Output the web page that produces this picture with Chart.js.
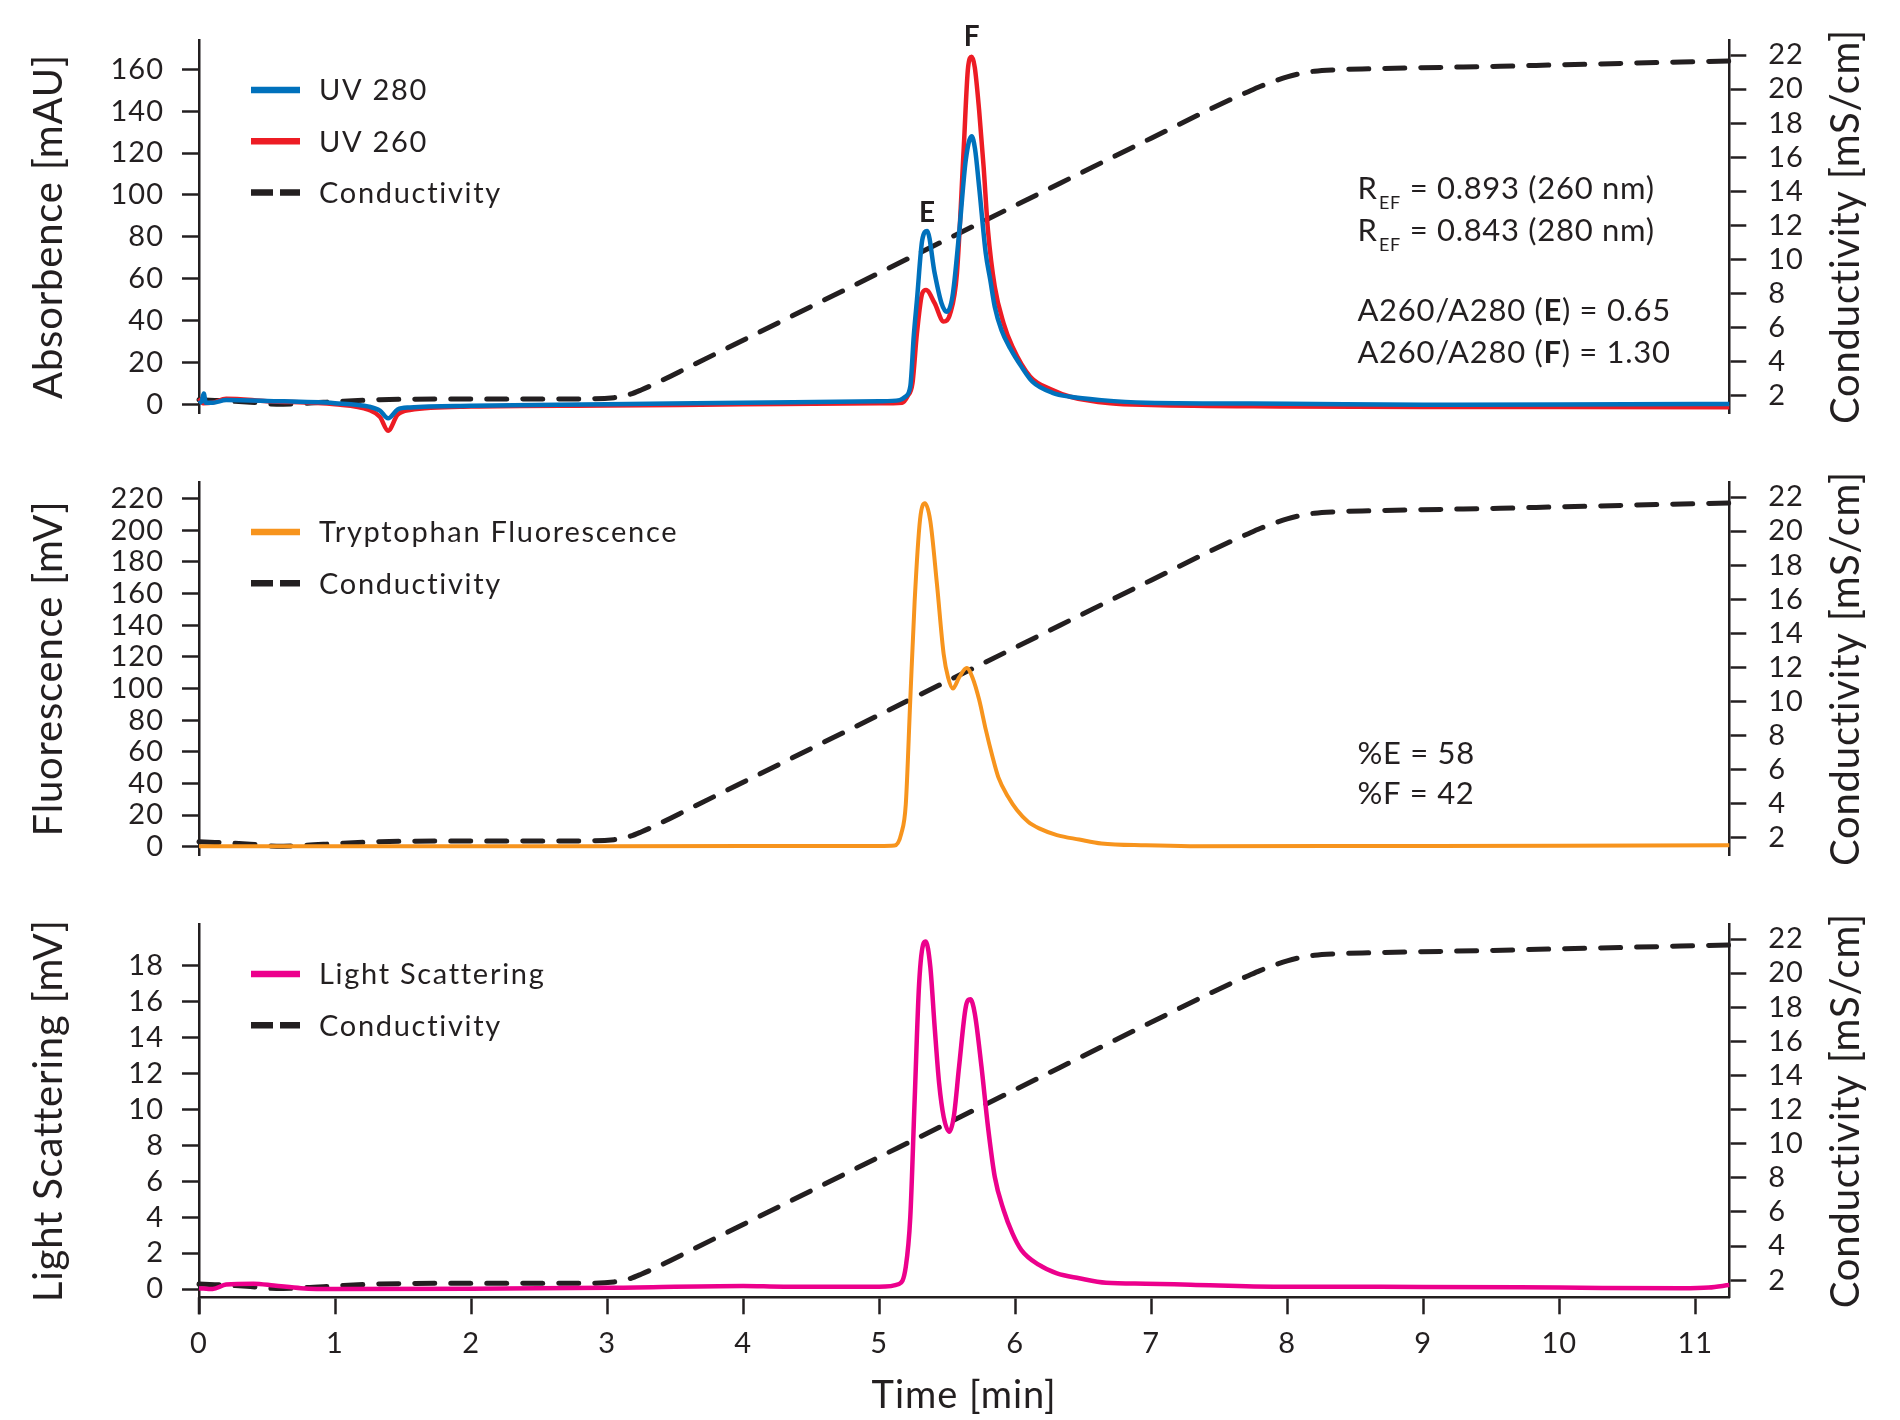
<!DOCTYPE html>
<html>
<head>
<meta charset="utf-8">
<script src="https://cdn.jsdelivr.net/npm/chart.js@4.4.1/dist/chart.umd.min.js"></script>
<style>
  html, body { margin: 0; padding: 0; background: #fff; }
  #wrap { position: relative; width: 1900px; height: 1420px; }
  canvas { position: absolute; left: 0; }
</style>
</head>
<body>
<div id="wrap">
  <canvas id="uvChart" width="1900" height="440" style="top:0"></canvas>
  <canvas id="fluChart" width="1900" height="440" style="top:440px"></canvas>
  <canvas id="lsChart" width="1900" height="540" style="top:880px"></canvas>
</div>
<script>
const INK = '#231f20';
const FONT = 'Lato, "Open Sans", sans-serif';

// ticks
const timeTicks = [0, 1, 2, 3, 4, 5, 6, 7, 8, 9, 10, 11];
const condTicks = [2, 4, 6, 8, 10, 12, 14, 16, 18, 20, 22];
const absTicks = [0, 20, 40, 60, 80, 100, 120, 140, 160];
const fluTicks = [0, 20, 40, 60, 80, 100, 120, 140, 160, 180, 200, 220];
const lsTicks = [0, 2, 4, 6, 8, 10, 12, 14, 16, 18];

// conductivity (mS/cm), same run in every panel
const condTime = [0, 0.35, 0.57, 0.77, 1.03, 1.33, 2.0, 2.9, 3.05, 3.15, 3.25, 3.4, 3.6, 4.0, 5.0, 6.0, 7.0, 7.6, 7.7, 7.8, 7.9, 8.0, 8.1, 8.2, 8.35, 8.6, 9.5, 10.2, 11.25];
const cond = [1.78, 1.65, 1.52, 1.56, 1.68, 1.78, 1.82, 1.83, 1.9, 2.05, 2.35, 2.9, 3.69, 5.27, 9.22, 13.17, 17.12, 19.45, 19.8, 20.15, 20.45, 20.72, 20.92, 21.05, 21.13, 21.19, 21.33, 21.46, 21.65];

// UV 280 (mAU)
const uv280Time = [0, 0.02, 0.035, 0.05, 0.1, 0.2, 0.5, 1.0, 1.25, 1.33, 1.39, 1.46, 1.55, 2.0, 3.0, 4.0, 5.0, 5.15, 5.19, 5.229, 5.255, 5.278, 5.317, 5.353, 5.408, 5.458, 5.497, 5.539, 5.588, 5.637, 5.68, 5.705, 5.735, 5.784, 5.817, 5.85, 5.899, 5.964, 6.046, 6.127, 6.275, 6.405, 6.634, 6.96, 8.0, 9.0, 10.0, 11.25];
const uv280 = [0.5, 1.5, 5.2, 0.8, 0.8, 2.0, 1.6, 0.5, -1.1, -3.0, -6.7, -2.5, -1.5, -0.7, 0.0, 0.8, 1.5, 2.0, 3.5, 8.4, 33, 49.8, 78.5, 82.8, 62.7, 48.4, 44.2, 51.4, 81.7, 116.7, 128, 122, 103.9, 72, 59.4, 46.6, 35.5, 26.7, 18, 10.8, 5.5, 3.6, 2.0, 0.8, 0.3, -0.2, -0.1, 0.2];

// UV 260 (mAU)
const uv260Time = [0, 0.03, 0.1, 0.2, 0.5, 1.0, 1.25, 1.33, 1.39, 1.46, 1.55, 2.0, 3.0, 4.0, 5.0, 5.17, 5.21, 5.245, 5.278, 5.317, 5.345, 5.408, 5.474, 5.523, 5.572, 5.621, 5.654, 5.68, 5.703, 5.735, 5.768, 5.8, 5.85, 5.915, 5.98, 6.111, 6.275, 6.405, 6.7, 7.0, 8.0, 9.0, 10.0, 11.25];
const uv260 = [3.0, 0.5, 0.8, 2.7, 1.5, 0.0, -2.7, -6.0, -12.6, -5.0, -2.7, -1.1, -0.6, 0.0, 0.5, 0.8, 4.0, 10.1, 34, 53, 54.6, 48.3, 39.5, 43.5, 62.6, 121, 161, 166, 161, 140.5, 113.5, 83.2, 56.2, 38.7, 27.5, 13.2, 6.8, 3.6, 0.5, -0.3, -1.0, -1.3, -1.3, -1.4];

// tryptophan fluorescence (mV)
const fluTime = [0, 1.0, 3.0, 5.0, 5.114, 5.163, 5.196, 5.229, 5.261, 5.301, 5.337, 5.376, 5.425, 5.474, 5.507, 5.542, 5.588, 5.644, 5.686, 5.735, 5.784, 5.833, 5.876, 5.948, 6.013, 6.095, 6.176, 6.307, 6.471, 6.634, 6.961, 7.288, 9.0, 10.0, 11.25];
const flu = [0.3, 0.3, 0.4, 0.5, 0.8, 8.4, 27, 93, 155, 207, 217, 206, 166, 122, 107, 100, 107, 113, 107, 93, 74, 57, 44, 31.6, 23.2, 15.8, 11.6, 7.4, 4.6, 2.1, 0.9, 0.4, 0.5, 0.7, 1.0];

// light scattering (mV)
const lsTime = [0, 0.1, 0.2, 0.4, 0.55, 0.75, 1.0, 2.0, 3.0, 4.0, 4.3, 5.0, 5.147, 5.196, 5.229, 5.261, 5.294, 5.327, 5.343, 5.376, 5.408, 5.441, 5.474, 5.516, 5.549, 5.588, 5.637, 5.67, 5.703, 5.752, 5.8, 5.85, 5.915, 5.98, 6.046, 6.176, 6.307, 6.471, 6.667, 6.96, 7.29, 7.94, 9.0, 10.0, 10.9, 11.1, 11.25];
const ls = [0.05, 0.0, 0.25, 0.3, 0.2, 0.05, 0.0, 0.02, 0.07, 0.17, 0.13, 0.13, 0.28, 1.24, 4.0, 10.5, 17.0, 19.25, 19.34, 17.95, 14.6, 11.45, 9.6, 8.76, 9.6, 12.4, 15.7, 16.13, 15.35, 12.4, 9.04, 6.25, 4.4, 3.1, 2.17, 1.34, 0.87, 0.6, 0.35, 0.3, 0.24, 0.13, 0.12, 0.08, 0.04, 0.08, 0.22];

function pts(ts, vs) {
  return ts.map((t, i) => ({ x: t, y: vs[i] }));
}

// highest point of a series inside a time window
function peakOf(ts, vs, t0, t1) {
  let best = null;
  ts.forEach((t, i) => {
    if (t >= t0 && t <= t1 && (!best || vs[i] > best.v)) best = { t, v: vs[i] };
  });
  return best;
}

function solid(label, ts, vs, color, width, order) {
  return {
    label, data: pts(ts, vs), yAxisID: 'y',
    borderColor: color, borderWidth: width, pointRadius: 0,
    cubicInterpolationMode: 'monotone', clip: false, order
  };
}

function condSet(order) {
  return {
    label: 'Conductivity', data: pts(condTime, cond), yAxisID: 'y1',
    borderColor: INK, borderWidth: 5, borderDash: [20, 16], borderCapStyle: 'round',
    pointRadius: 0, cubicInterpolationMode: 'monotone', clip: false, order
  };
}

function yScale(position, tickVals, min, max) {
  return {
    type: 'linear', position, min, max,
    afterBuildTicks: s => { s.ticks = tickVals.map(v => ({ value: v })); },
    afterFit: s => {
      s.width = position === 'left' ? 199 : 170.7;
      s.paddingTop = 0;
      s.paddingBottom = 0;
    },
    grid: { drawOnChartArea: false, drawTicks: true, tickLength: 17, tickWidth: 2.5, tickColor: INK },
    border: { display: true, color: INK, width: 2.5 },
    ticks: { color: INK, font: { family: FONT, size: 29 }, padding: position === 'left' ? 18 : 22, autoSkip: false },
    title: { display: false }
  };
}

function xScale(show) {
  if (!show) return { type: 'linear', min: 0, max: 11.25, display: false };
  return {
    type: 'linear', position: 'bottom', min: 0, max: 11.25,
    afterBuildTicks: s => { s.ticks = timeTicks.map(v => ({ value: v })); },
    afterFit: s => { s.height = 122.7; s.paddingLeft = 0; s.paddingRight = 0; },
    grid: { drawOnChartArea: false, drawTicks: true, tickLength: 17, tickWidth: 2.5, tickColor: INK },
    border: { display: true, color: INK, width: 2.5 },
    ticks: { color: INK, font: { family: FONT, size: 29 }, padding: 12, maxRotation: 0, autoSkip: false },
    title: { display: true, text: 'Time [min]', color: INK, font: { family: FONT, size: 38 }, padding: { top: 0, bottom: 1 } }
  };
}

function vText(ctx, text, x, y) {
  ctx.save();
  ctx.translate(x, y);
  ctx.rotate(-Math.PI / 2);
  ctx.fillText(text, 0, 0);
  ctx.restore();
}

// legend, notes, peak letters, axis titles
const decor = {
  id: 'decor',
  beforeDraw(chart) {
    chart.ctx.letterSpacing = '1px';
  },
  afterDatasetsDraw(chart, args, o) {
    const { ctx, chartArea: a } = chart;
    ctx.save();
    ctx.textAlign = 'left';
    ctx.textBaseline = 'alphabetic';
    ctx.fillStyle = INK;

    ctx.letterSpacing = '1.7px';
    chart.data.datasets.forEach((ds, i) => {
      const y = a.top + 50 + i * 51.3;
      ctx.beginPath();
      ctx.strokeStyle = ds.borderColor;
      ctx.lineWidth = 6.5;
      ctx.lineCap = 'butt';
      ctx.setLineDash(ds.borderDash ? [22, 7] : []);
      ctx.moveTo(a.left + 52, y);
      ctx.lineTo(a.left + 101, y);
      ctx.stroke();
      ctx.setLineDash([]);
      ctx.font = '29px ' + FONT;
      ctx.fillText(ds.label, a.left + 120, y + 10.4);
    });

    ctx.letterSpacing = '0.7px';
    (o.notes || []).forEach(line => {
      let x = a.left + 1158.4;
      const base = a.top + line.dy + 11;
      line.parts.forEach(p => {
        ctx.font = (p.bold ? 'bold ' : '') + (p.sub ? 18 : 31) + 'px ' + FONT;
        ctx.fillText(p.t, x + (p.sub ? 1.5 : 0), p.sub ? base + 10 : base);
        x += ctx.measureText(p.t).width + (p.sub ? 1.5 : 0);
      });
    });

    ctx.letterSpacing = '0px';
    (o.peaks || []).forEach(pk => {
      const px = chart.scales.x.getPixelForValue(pk.t);
      const py = chart.scales.y.getPixelForValue(pk.v);
      ctx.font = 'bold 28px ' + FONT;
      ctx.textAlign = 'center';
      ctx.fillText(pk.text, px, py - pk.gap + 10);
    });
    ctx.restore();
  },
  afterDraw(chart, args, o) {
    const { ctx, chartArea: a } = chart;
    const midY = (a.top + a.bottom) / 2;
    ctx.save();
    ctx.fillStyle = INK;
    ctx.font = '40px ' + FONT;
    ctx.letterSpacing = '0.8px';
    ctx.textAlign = 'center';
    ctx.textBaseline = 'middle';
    vText(ctx, o.leftTitle, a.left - 150, midY);
    vText(ctx, 'Conductivity [mS/cm]', a.right + 116.7, midY);
    ctx.restore();
    if (o.extendLeft) {
      ctx.save();
      ctx.strokeStyle = INK;
      ctx.lineWidth = 2.5;
      ctx.beginPath();
      ctx.moveTo(a.left, a.bottom);
      ctx.lineTo(a.left, a.bottom + o.extendLeft);
      ctx.stroke();
      ctx.restore();
    }
  }
};

function makeChart(id, datasets, scales, pad, decorOpts) {
  return new Chart(document.getElementById(id), {
    type: 'line',
    data: { datasets },
    options: {
      responsive: false, animation: false, devicePixelRatio: 1,
      layout: { padding: pad },
      plugins: { legend: { display: false }, tooltip: { enabled: false }, decor: decorOpts },
      scales
    },
    plugins: [decor]
  });
}

const peakE = peakOf(uv280Time, uv280, 5.2, 5.45);
const peakF = peakOf(uv260Time, uv260, 5.5, 5.9);

makeChart('uvChart',
  [solid('UV 280', uv280Time, uv280, '#0071bc', 4.5, 1),
   solid('UV 260', uv260Time, uv260, '#ed1c24', 4.5, 2),
   condSet(3)],
  { x: xScale(false),
    y: yScale('left', absTicks, -4.15, 174),
    y1: yScale('right', condTicks, 1.0, 22.88) },
  { top: 40, bottom: 27, left: 0, right: 0 },
  { leftTitle: 'Absorbence [mAU]',
    notes: [
      { dy: 148.3, parts: [{ t: 'R' }, { t: 'EF', sub: true }, { t: ' = 0.893 (260 nm)' }] },
      { dy: 190, parts: [{ t: 'R' }, { t: 'EF', sub: true }, { t: ' = 0.843 (280 nm)' }] },
      { dy: 270, parts: [{ t: 'A260/A280 (' }, { t: 'E', bold: true }, { t: ') = 0.65' }] },
      { dy: 311.7, parts: [{ t: 'A260/A280 (' }, { t: 'F', bold: true }, { t: ') = 1.30' }] }
    ],
    peaks: [
      { text: 'E', t: peakE.t, v: peakE.v, gap: 19.3 },
      { text: 'F', t: peakF.t, v: peakF.v, gap: 21 }
    ] });

makeChart('fluChart',
  [solid('Tryptophan Fluorescence', fluTime, flu, '#f7941d', 4, 1), condSet(2)],
  { x: xScale(false),
    y: yScale('left', fluTicks, -5.2, 230.5),
    y1: yScale('right', condTicks, 1.0, 22.88) },
  { top: 42, bottom: 25, left: 0, right: 0 },
  { leftTitle: 'Fluorescence [mV]',
    notes: [
      { dy: 271.3, parts: [{ t: '%E = 58' }] },
      { dy: 311.3, parts: [{ t: '%F = 42' }] }
    ] });

makeChart('lsChart',
  [solid('Light Scattering', lsTime, ls, '#ec008c', 4.5, 1), condSet(2)],
  { x: xScale(true),
    y: yScale('left', lsTicks, -0.46, 20.32),
    y1: yScale('right', condTicks, 1.0, 22.88) },
  { top: 44, bottom: 0, left: 0, right: 0 },
  { leftTitle: 'Light Scattering [mV]', extendLeft: 17 });
</script>
</body>
</html>
